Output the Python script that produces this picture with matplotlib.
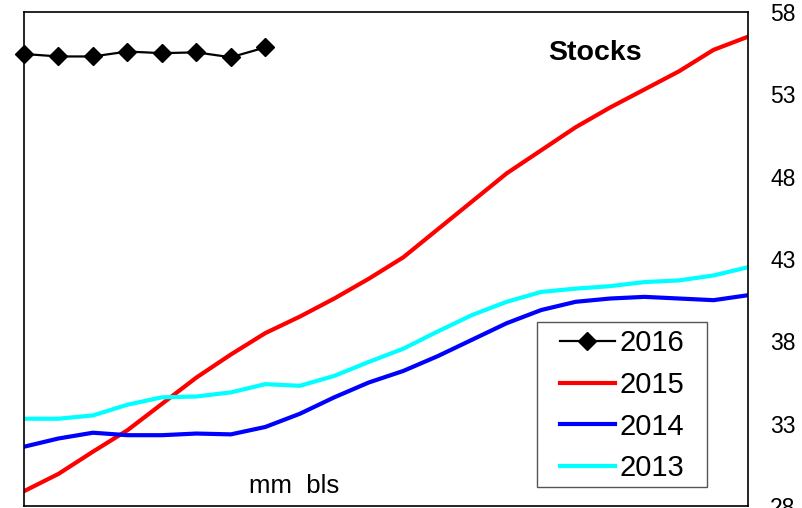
import matplotlib.pyplot as plt
from matplotlib.patches import Rectangle
import numpy as np

plt.rcParams['font.family'] = ['Liberation Sans', 'DejaVu Sans']

weeks = np.arange(22)

stocks_2016 = [55.45, 55.3, 55.3, 55.6, 55.5, 55.55, 55.25, 55.85]
stocks_2015 = [28.9, 29.95, 31.3, 32.6, 34.2, 35.8, 37.2, 38.5, 39.5, 40.6, 41.8,
               43.1, 44.8, 46.5, 48.2, 49.6, 51.0, 52.2, 53.3, 54.4, 55.7, 56.5]
stocks_2014 = [31.6, 32.1, 32.45, 32.3, 32.3, 32.4, 32.35, 32.8, 33.6, 34.6, 35.5,
               36.2, 37.1, 38.1, 39.1, 39.9, 40.4, 40.6, 40.7, 40.6, 40.5, 40.8]
stocks_2013 = [33.3, 33.3, 33.5, 34.15, 34.6, 34.65, 34.9, 35.4, 35.3, 35.9, 36.75,
               37.55, 38.6, 39.6, 40.4, 41.0, 41.2, 41.35, 41.6, 41.7, 42.0, 42.5]

y_ticks = [28, 33, 38, 43, 48, 53, 58]

fig = plt.figure(figsize=(8.03, 5.08), dpi=100)
ax = fig.add_axes([24 / 803, 2 / 508, 724 / 803, 494 / 508])

ax.plot(weeks[:len(stocks_2016)], stocks_2016, color='black', marker='D',
        markersize=9.5, linewidth=1.6, label='2016', clip_on=False, zorder=5)
ax.plot(weeks, stocks_2015, color='#ff0000', linewidth=3.0, label='2015')
ax.plot(weeks, stocks_2014, color='#0000ff', linewidth=3.0, label='2014')
ax.plot(weeks, stocks_2013, color='#00ffff', linewidth=3.0, label='2013')

ax.set_xlim(0, 21)
ax.set_ylim(28, 58)
ax.set_xticks([])
ax.set_yticks(y_ticks)
ax.yaxis.tick_right()
ax.tick_params(axis='y', length=0, pad=16, labelsize=16.5)

for side in ['left', 'right', 'top', 'bottom']:
    ax.spines[side].set_linewidth(1.2)
    ax.spines[side].set_color('black')

ax.text(0.788, 0.917, 'Stocks', transform=ax.transAxes, fontsize=20.5,
        fontweight='bold', ha='center', va='center')
ax.text(0.373, 0.04, 'mm  bls', transform=ax.transAxes, fontsize=18.5,
        ha='center', va='center')

# legend without its own frame, box drawn separately (wider than matplotlib pads)
leg = ax.legend(loc='upper left', bbox_to_anchor=(0.740, 0.358),
                borderaxespad=0, fontsize=21, handlelength=1.9,
                handletextpad=0.15, labelspacing=0.47, frameon=False,
                borderpad=0)
leg.set_zorder(7)
ax.add_patch(Rectangle((0.7086, 0.0385), 0.2348, 0.334, transform=ax.transAxes,
                       facecolor='white', edgecolor='#555555', linewidth=1.0,
                       zorder=6))

fig.savefig('out.png', dpi=100)
